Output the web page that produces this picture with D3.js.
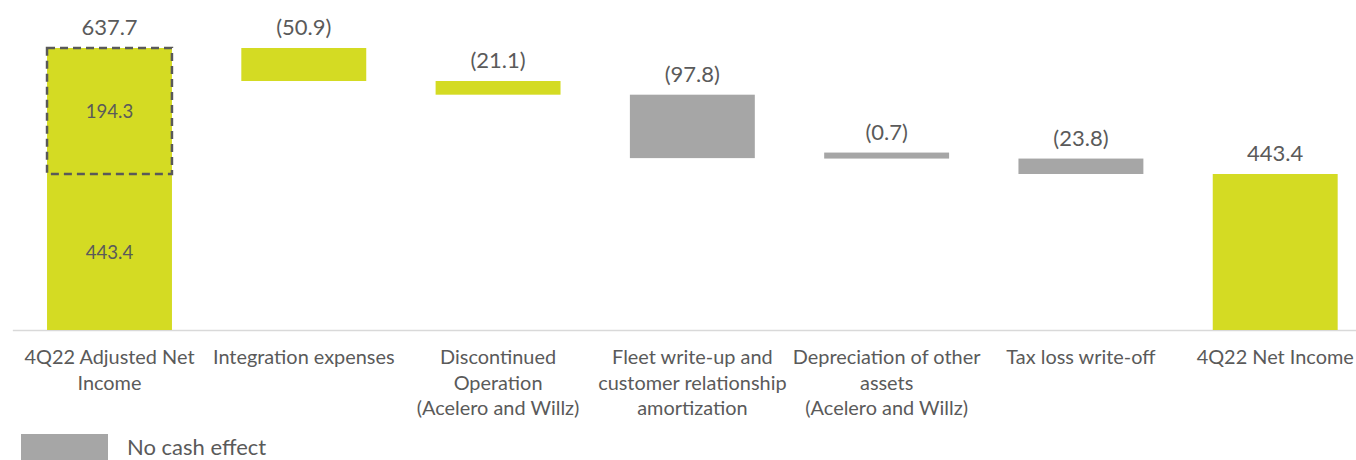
<!DOCTYPE html>
<html>
<head>
<meta charset="utf-8">
<script src="https://cdn.jsdelivr.net/npm/d3@7"></script>
<style>
  html, body { margin: 0; padding: 0; background: #ffffff; }
  svg { display: block; }
  text { font-family: Lato, "Open Sans", sans-serif; fill: #5a5a5a; }
</style>
</head>
<body>
<svg id="chart" width="1356" height="460"></svg>
<script>
// ---- data ----
const categories = [
  "4Q22 Adjusted Net Income",
  "Integration expenses",
  "Discontinued Operation (Acelero and Willz)",
  "Fleet write-up and customer relationship amortization",
  "Depreciation of other assets (Acelero and Willz)",
  "Tax loss write-off",
  "4Q22 Net Income"
];
const categoryLines = [
  ["4Q22 Adjusted Net", "Income"],
  ["Integration expenses"],
  ["Discontinued", "Operation", "(Acelero and Willz)"],
  ["Fleet write-up and", "customer relationship", "amortization"],
  ["Depreciation of other", "assets", "(Acelero and Willz)"],
  ["Tax loss write-off"],
  ["4Q22 Net Income"]
];
const values = [637.7, -50.9, -21.1, -97.8, -0.7, -23.8, 443.4];
const barTypes = ["total", "delta", "delta", "delta", "delta", "delta", "total"];
const cashEffect = [true, true, true, false, false, false, true];
const firstBarParts = [443.4, 194.3];   // stacked split of the first bar
const legendLabel = "No cash effect";

// ---- styles ----
const GREEN = "#d4db23";
const GRAY = "#a6a6a6";
const TEXT = "#5a5a5a";

const svg = d3.select("#chart");

// ---- compute waterfall extents ----
let running = 0;
const bars = values.map((v, i) => {
  let y0, y1;
  if (barTypes[i] === "total") { y0 = 0; y1 = v; running = v; }
  else { y0 = running + v; y1 = running; running = running + v; }
  return { cat: categories[i], value: v, y0, y1, i };
});

// ---- scales ----
const x = d3.scaleBand()
  .domain(categories)
  .range([12.35, 1372.35])
  .paddingInner(0.357)
  .paddingOuter(0.1785);

const brkVal = firstBarParts[0];
const topVal = firstBarParts[0] + firstBarParts[1];
// broken (piecewise) value axis, as in the original slide
const y = d3.scaleLinear()
  .domain([0, brkVal, topVal])
  .range([330, 174, 48]);

const MIN_H = 6;

// ---- axis (baseline + category labels) ----
const axis = d3.axisBottom(x).tickSize(0).tickFormat("");
const gAxis = svg.append("g")
  .attr("transform", `translate(0,${y(0)})`)
  .call(axis);
gAxis.select(".domain").attr("stroke", "#d9d9d9").attr("stroke-width", 1.5);
gAxis.selectAll(".tick text").remove();

gAxis.selectAll(".tick").each(function(d, i) {
  const t = d3.select(this).append("text")
    .attr("text-anchor", "middle")
    .style("font-size", "19.9px")
    .attr("fill", TEXT);
  categoryLines[i].forEach((line, j) => {
    t.append("tspan").attr("x", 0).attr("y", 34 + j * 25.6).text(line);
  });
});

// ---- bars ----
const gBars = svg.append("g");
gBars.selectAll("rect.bar")
  .data(bars)
  .join("rect")
  .attr("class", "bar")
  .attr("x", d => x(d.cat))
  .attr("width", x.bandwidth())
  .attr("y", d => {
    const yb = y(d.y0), yt = y(d.y1);
    return (yb - yt) < MIN_H ? yb - MIN_H : yt;
  })
  .attr("height", d => Math.max(MIN_H, y(d.y0) - y(d.y1)))
  .attr("fill", d => cashEffect[d.i] ? GREEN : GRAY);

// dashed outline around the upper part of first bar
const b0 = bars[0];
svg.append("rect")
  .attr("x", x(b0.cat))
  .attr("y", y(topVal))
  .attr("width", x.bandwidth())
  .attr("height", y(brkVal) - y(topVal))
  .attr("fill", "none")
  .attr("stroke", "#595959")
  .attr("stroke-width", 2.5)
  .attr("stroke-dasharray", "8,5");

// inner labels of first bar
const innerFmt = d3.format(".1f");
svg.append("text")
  .attr("x", x(b0.cat) + x.bandwidth() / 2)
  .attr("y", (y(brkVal) + y(topVal)) / 2)
  .attr("dy", "0.35em")
  .attr("text-anchor", "middle")
  .style("font-size", "18.6px")
  .text(innerFmt(firstBarParts[1]));
svg.append("text")
  .attr("x", x(b0.cat) + x.bandwidth() / 2)
  .attr("y", (y(0) + y(brkVal)) / 2)
  .attr("dy", "0.35em")
  .attr("text-anchor", "middle")
  .style("font-size", "18.6px")
  .text(innerFmt(firstBarParts[0]));

// value labels
const fmt = v => v < 0 ? `(${d3.format(".1f")(-v)})` : d3.format(".1f")(v);
svg.append("g").selectAll("text")
  .data(bars)
  .join("text")
  .attr("x", d => x(d.cat) + x.bandwidth() / 2)
  .attr("y", d => {
    const yb = y(d.y0), yt = y(d.y1);
    const topY = (yb - yt) < MIN_H ? yb - MIN_H : yt;
    return topY - 13;
  })
  .attr("text-anchor", "middle")
  .style("font-size", "22px")
  .text(d => fmt(d.value));

// ---- legend ----
const gLeg = svg.append("g");
gLeg.append("rect")
  .attr("x", 21).attr("y", 434)
  .attr("width", 87).attr("height", 30)
  .attr("fill", GRAY);
gLeg.append("text")
  .attr("x", 127).attr("y", 455)
  .style("font-size", "22px")
  .text(legendLabel);
</script>
</body>
</html>
